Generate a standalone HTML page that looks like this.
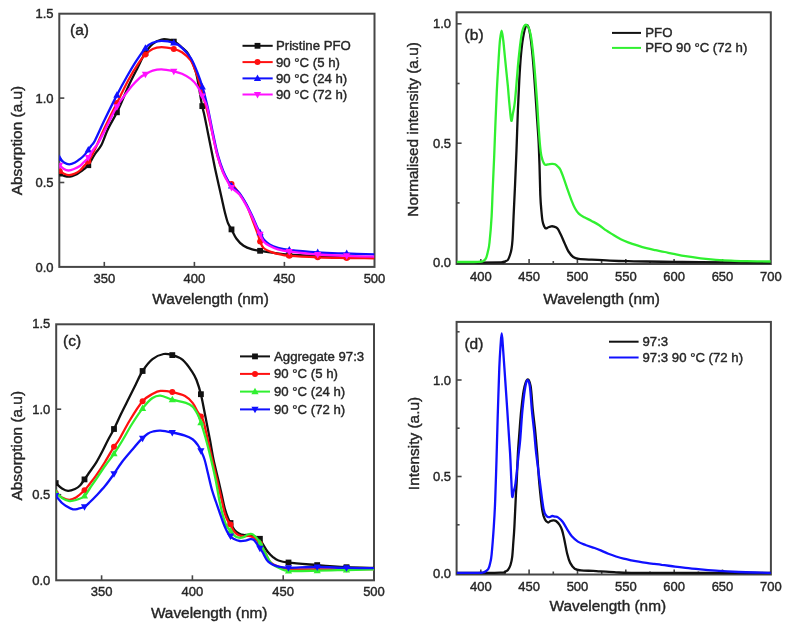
<!DOCTYPE html>
<html><head><meta charset="utf-8"><title>Figure</title>
<style>
html,body{margin:0;padding:0;background:#fff;}
body{width:787px;height:629px;overflow:hidden;}
svg{display:block;filter:blur(0.4px);}
text{font-family:"Liberation Sans",sans-serif;fill:#262626;stroke:#262626;stroke-width:0.4px;}
</style></head><body>
<svg width="787" height="629" viewBox="0 0 787 629">
<rect width="787" height="629" fill="#fff"/>
<g id="all">
<rect x="59.3" y="13.7" width="315.2" height="253.2" fill="none" stroke="#464646" stroke-width="2"/>
<line x1="104.3" y1="266.9" x2="104.3" y2="261.9" stroke="#464646" stroke-width="1.6"/>
<line x1="194.4" y1="266.9" x2="194.4" y2="261.9" stroke="#464646" stroke-width="1.6"/>
<line x1="284.4" y1="266.9" x2="284.4" y2="261.9" stroke="#464646" stroke-width="1.6"/>
<line x1="59.3" y1="182.5" x2="64.3" y2="182.5" stroke="#464646" stroke-width="1.6"/>
<line x1="59.3" y1="98.1" x2="64.3" y2="98.1" stroke="#464646" stroke-width="1.6"/>
<text x="104.3" y="283.0" font-size="13.0" text-anchor="middle" >350</text>
<text x="194.4" y="283.0" font-size="13.0" text-anchor="middle" >400</text>
<text x="284.4" y="283.0" font-size="13.0" text-anchor="middle" >450</text>
<text x="374.5" y="283.0" font-size="13.0" text-anchor="middle" >500</text>
<text x="53.5" y="271.5" font-size="13.0" text-anchor="end" >0.0</text>
<text x="53.5" y="187.1" font-size="13.0" text-anchor="end" >0.5</text>
<text x="53.5" y="102.7" font-size="13.0" text-anchor="end" >1.0</text>
<text x="53.5" y="18.3" font-size="13.0" text-anchor="end" >1.5</text>
<text x="210.5" y="304.0" font-size="15.4" text-anchor="middle" >Wavelength (nm)</text>
<text x="0.0" y="0.0" font-size="15.4" text-anchor="middle" transform="translate(21.5,140.6) rotate(-90)">Absorption (a.u)</text>
<text x="70.0" y="34.5" font-size="15.5" text-anchor="start" >(a)</text>
<clipPath id="ca"><rect x="59.3" y="13.7" width="315.2" height="253.2"/></clipPath>
<g clip-path="url(#ca)">
<path d="M59.5,173.6 C60.2,174.0 62.2,175.3 64.0,175.8 C65.8,176.3 68.2,176.7 70.0,176.6 C71.8,176.5 73.3,175.8 75.0,175.0 C76.7,174.2 78.4,173.0 79.9,172.0 C81.4,171.0 82.6,170.1 84.0,169.0 C85.4,167.9 86.5,167.7 88.3,165.2 C90.1,162.7 92.8,157.4 95.0,154.0 C97.2,150.6 99.2,149.2 101.4,145.0 C103.6,140.8 105.2,134.8 108.0,129.0 C110.8,123.2 114.6,117.3 118.0,110.2 C121.4,103.1 125.1,93.5 128.4,86.3 C131.7,79.1 135.2,72.6 137.9,67.3 C140.6,62.0 141.8,58.4 144.3,54.5 C146.8,50.6 149.8,46.5 152.7,44.0 C155.6,41.5 158.7,40.2 161.6,39.5 C164.5,38.8 167.6,39.5 170.0,40.0 C172.4,40.5 174.0,41.2 176.0,42.5 C178.0,43.8 179.9,45.6 182.0,47.5 C184.1,49.4 186.0,50.0 188.3,54.1 C190.6,58.2 193.7,63.9 195.9,72.0 C198.1,80.2 200.2,95.6 201.6,103.0 C203.0,110.4 203.5,111.1 204.6,116.2 C205.7,121.3 206.9,127.9 208.1,133.7 C209.3,139.5 210.4,145.4 211.6,151.2 C212.8,157.0 213.9,163.2 215.1,168.7 C216.3,174.2 217.4,179.2 218.6,184.4 C219.8,189.6 221.1,195.4 222.1,200.0 C223.1,204.6 223.8,208.2 224.8,212.0 C225.8,215.8 226.8,220.0 227.9,222.9 C229.0,225.8 230.1,226.8 231.5,229.4 C232.9,232.0 234.5,236.0 236.5,238.7 C238.5,241.4 241.0,244.0 243.6,245.8 C246.2,247.6 249.4,248.6 252.2,249.4 C254.9,250.2 256.8,250.2 260.1,250.8 C263.4,251.4 267.3,252.1 272.2,252.7 C277.1,253.3 281.8,254.0 289.4,254.6 C297.0,255.2 308.6,255.6 318.0,256.0 C327.4,256.4 336.6,256.6 346.0,256.8 C355.4,257.0 369.8,257.2 374.5,257.3" fill="none" stroke="#111" stroke-width="2.3" stroke-linejoin="round"/>
<rect x="56.7" y="170.7" width="5.8" height="5.8" fill="#111"/>
<rect x="85.4" y="162.3" width="5.8" height="5.8" fill="#111"/>
<rect x="114.0" y="109.4" width="5.8" height="5.8" fill="#111"/>
<rect x="142.5" y="50.2" width="5.8" height="5.8" fill="#111"/>
<rect x="170.9" y="38.7" width="5.8" height="5.8" fill="#111"/>
<rect x="199.4" y="103.2" width="5.8" height="5.8" fill="#111"/>
<rect x="228.6" y="226.5" width="5.8" height="5.8" fill="#111"/>
<rect x="257.2" y="247.9" width="5.8" height="5.8" fill="#111"/>
<rect x="286.4" y="251.7" width="5.8" height="5.8" fill="#111"/>
<rect x="314.8" y="253.1" width="5.8" height="5.8" fill="#111"/>
<rect x="343.8" y="253.9" width="5.8" height="5.8" fill="#111"/>
<path d="M59.5,170.9 C60.2,171.4 62.4,173.1 64.0,173.8 C65.6,174.5 67.4,175.2 69.2,175.1 C71.0,175.0 73.2,174.3 75.0,173.5 C76.8,172.7 78.4,171.8 79.9,170.5 C81.4,169.2 82.5,167.7 84.0,166.0 C85.5,164.3 87.3,163.1 89.0,160.6 C90.7,158.1 92.6,153.8 94.0,151.0 C95.4,148.2 95.6,148.0 97.4,144.0 C99.2,140.0 101.7,134.0 105.0,127.0 C108.3,120.0 113.4,110.0 117.3,102.2 C121.2,94.4 125.0,86.3 128.4,80.0 C131.8,73.7 135.1,68.3 137.9,64.1 C140.7,59.9 142.6,57.3 145.1,54.8 C147.6,52.3 149.9,50.3 152.7,49.0 C155.4,47.7 158.1,47.2 161.6,47.2 C165.1,47.2 170.3,48.2 173.7,49.0 C177.1,49.8 179.2,50.3 182.0,52.2 C184.8,54.1 188.3,56.6 190.8,60.5 C193.3,64.4 195.4,70.8 197.2,75.7 C199.0,80.6 200.2,85.5 201.5,90.0 C202.8,94.5 203.9,99.0 205.0,103.0 C206.1,107.0 206.8,108.9 208.0,114.0 C209.2,119.1 210.9,126.6 212.5,133.7 C214.1,140.8 215.9,150.0 217.7,156.4 C219.4,162.8 221.2,167.8 223.0,172.0 C224.8,176.2 226.7,179.4 228.2,181.5 C229.7,183.6 230.2,182.3 232.0,184.3 C233.8,186.3 236.9,190.1 239.3,193.5 C241.7,196.9 244.1,200.1 246.5,205.0 C248.9,209.9 251.7,218.0 253.6,222.9 C255.5,227.8 256.8,231.3 257.9,234.4 C259.0,237.5 259.2,239.2 260.1,241.5 C261.1,243.8 261.6,246.2 263.6,248.0 C265.6,249.8 268.9,251.1 272.2,252.3 C275.5,253.5 280.8,254.5 283.7,255.1 C286.6,255.7 283.7,255.4 289.4,255.8 C295.1,256.2 308.6,256.9 318.0,257.3 C327.4,257.7 336.6,257.8 346.0,258.0 C355.4,258.2 369.8,258.2 374.5,258.3" fill="none" stroke="#ff1010" stroke-width="2.3" stroke-linejoin="round"/>
<circle cx="59.6" cy="171.0" r="3.0" fill="#ff1010"/>
<circle cx="88.3" cy="161.4" r="3.0" fill="#ff1010"/>
<circle cx="116.9" cy="103.0" r="3.0" fill="#ff1010"/>
<circle cx="145.4" cy="54.6" r="3.0" fill="#ff1010"/>
<circle cx="173.8" cy="49.0" r="3.0" fill="#ff1010"/>
<circle cx="202.3" cy="93.0" r="3.0" fill="#ff1010"/>
<circle cx="231.5" cy="183.9" r="3.0" fill="#ff1010"/>
<circle cx="260.1" cy="241.5" r="3.0" fill="#ff1010"/>
<circle cx="289.3" cy="255.8" r="3.0" fill="#ff1010"/>
<circle cx="317.7" cy="257.3" r="3.0" fill="#ff1010"/>
<circle cx="346.7" cy="258.0" r="3.0" fill="#ff1010"/>
<path d="M59.5,158.3 C60.2,159.0 62.4,161.5 64.0,162.5 C65.6,163.5 67.4,164.4 69.2,164.4 C71.0,164.4 73.2,163.4 75.0,162.5 C76.8,161.6 78.4,160.3 79.9,159.1 C81.4,157.9 82.7,156.8 84.0,155.5 C85.3,154.2 86.3,152.7 87.5,151.1 C88.7,149.5 89.8,147.8 91.0,146.0 C92.2,144.2 92.7,144.9 95.0,140.4 C97.3,135.9 101.4,126.4 105.0,119.0 C108.6,111.6 112.9,102.9 116.5,95.9 C120.1,88.9 123.5,82.6 126.8,76.8 C130.1,71.0 133.1,65.8 136.3,60.9 C139.5,56.0 143.2,50.4 145.9,47.4 C148.6,44.4 150.1,43.8 152.7,42.7 C155.3,41.6 158.1,40.8 161.6,40.8 C165.1,40.8 170.3,41.5 173.7,42.7 C177.1,43.9 179.2,45.2 182.0,47.8 C184.8,50.3 188.3,54.0 190.8,58.0 C193.3,62.0 195.2,66.9 197.2,72.0 C199.2,77.1 201.2,82.8 202.9,88.5 C204.6,94.2 205.8,99.2 207.5,106.5 C209.2,113.8 211.1,124.3 212.8,132.5 C214.6,140.7 216.2,149.1 218.0,155.5 C219.8,161.9 221.6,166.8 223.3,171.2 C225.1,175.6 227.1,179.1 228.5,181.7 C229.9,184.2 230.2,184.6 232.0,186.5 C233.8,188.4 237.1,190.2 239.5,193.3 C241.9,196.4 244.5,201.0 246.7,204.8 C248.8,208.6 250.7,212.6 252.4,216.2 C254.1,219.8 255.4,223.4 256.7,226.2 C258.0,229.0 259.1,230.8 260.3,233.0 C261.5,235.2 262.2,237.6 263.8,239.5 C265.4,241.4 267.2,243.1 269.6,244.5 C272.0,245.9 274.7,246.9 278.0,247.8 C281.3,248.7 282.7,249.2 289.4,250.0 C296.1,250.8 308.6,251.9 318.0,252.5 C327.4,253.1 336.6,253.2 346.0,253.5 C355.4,253.8 369.8,254.2 374.5,254.3" fill="none" stroke="#1010ff" stroke-width="2.3" stroke-linejoin="round"/>
<path d="M59.6,154.5L63.2,161.0L56.0,161.0Z" fill="#1010ff"/>
<path d="M88.3,146.0L91.9,152.5L84.7,152.5Z" fill="#1010ff"/>
<path d="M116.9,91.3L120.5,97.8L113.3,97.8Z" fill="#1010ff"/>
<path d="M145.4,44.2L149.0,50.7L141.8,50.7Z" fill="#1010ff"/>
<path d="M173.8,38.9L177.4,45.4L170.2,45.4Z" fill="#1010ff"/>
<path d="M202.3,82.9L205.9,89.4L198.7,89.4Z" fill="#1010ff"/>
<path d="M231.5,181.9L235.1,188.4L227.9,188.4Z" fill="#1010ff"/>
<path d="M260.1,228.7L263.7,235.2L256.5,235.2Z" fill="#1010ff"/>
<path d="M289.3,246.1L292.9,252.6L285.7,252.6Z" fill="#1010ff"/>
<path d="M317.7,248.6L321.3,255.1L314.1,255.1Z" fill="#1010ff"/>
<path d="M346.7,249.6L350.3,256.1L343.1,256.1Z" fill="#1010ff"/>
<path d="M59.5,165.2 C60.2,165.8 62.5,168.1 64.0,169.0 C65.5,169.9 66.8,170.5 68.5,170.5 C70.2,170.5 72.1,169.8 74.0,169.0 C75.9,168.2 78.2,167.2 79.9,166.0 C81.6,164.8 82.6,163.4 84.0,162.0 C85.4,160.6 86.8,159.6 88.3,157.6 C89.8,155.6 91.3,152.4 93.0,150.0 C94.7,147.6 96.2,146.3 98.2,143.0 C100.2,139.7 102.1,135.7 105.0,130.0 C107.9,124.3 112.9,113.8 115.7,108.6 C118.5,103.4 119.3,102.7 122.0,99.0 C124.7,95.3 128.6,89.9 131.6,86.3 C134.6,82.7 137.8,79.6 140.0,77.6 C142.2,75.6 143.0,75.7 145.1,74.5 C147.2,73.3 149.9,71.5 152.7,70.7 C155.4,69.9 158.1,69.3 161.6,69.4 C165.1,69.5 170.3,70.6 173.7,71.3 C177.1,72.0 179.2,72.5 182.0,73.8 C184.8,75.1 188.3,76.9 190.8,78.9 C193.3,80.9 195.3,83.0 197.2,85.9 C199.1,88.8 200.6,92.5 202.3,96.1 C204.0,99.7 205.5,101.2 207.2,107.5 C208.9,113.8 210.8,125.5 212.5,133.7 C214.2,141.8 215.9,150.0 217.7,156.4 C219.4,162.8 221.2,167.8 223.0,172.2 C224.8,176.6 226.8,180.1 228.2,182.7 C229.6,185.3 229.8,186.0 231.7,187.9 C233.5,189.8 236.8,191.3 239.3,194.3 C241.8,197.3 244.3,202.0 246.5,205.8 C248.7,209.6 250.5,213.6 252.2,217.2 C253.9,220.8 255.2,224.3 256.5,227.2 C257.8,230.1 258.9,232.0 260.1,234.4 C261.3,236.8 262.1,239.6 263.6,241.5 C265.2,243.4 267.0,244.5 269.4,245.8 C271.8,247.1 274.6,248.5 277.9,249.4 C281.2,250.3 282.7,250.7 289.4,251.5 C296.1,252.3 308.6,253.8 318.0,254.5 C327.4,255.2 336.6,255.4 346.0,255.8 C355.4,256.2 369.8,256.6 374.5,256.7" fill="none" stroke="#ff10ff" stroke-width="2.3" stroke-linejoin="round"/>
<path d="M59.6,169.2L63.2,162.7L56.0,162.7Z" fill="#ff10ff"/>
<path d="M88.3,161.5L91.9,155.0L84.7,155.0Z" fill="#ff10ff"/>
<path d="M116.9,110.7L120.5,104.2L113.3,104.2Z" fill="#ff10ff"/>
<path d="M145.4,78.2L149.0,71.8L141.8,71.8Z" fill="#ff10ff"/>
<path d="M173.8,75.2L177.4,68.7L170.2,68.7Z" fill="#ff10ff"/>
<path d="M202.3,100.0L205.9,93.5L198.7,93.5Z" fill="#ff10ff"/>
<path d="M231.5,191.5L235.1,185.0L227.9,185.0Z" fill="#ff10ff"/>
<path d="M260.1,238.3L263.7,231.8L256.5,231.8Z" fill="#ff10ff"/>
<path d="M289.3,255.4L292.9,248.9L285.7,248.9Z" fill="#ff10ff"/>
<path d="M317.7,258.4L321.3,251.9L314.1,251.9Z" fill="#ff10ff"/>
<path d="M346.7,259.7L350.3,253.2L343.1,253.2Z" fill="#ff10ff"/>
</g>
<line x1="242.5" y1="45.8" x2="272.7" y2="45.8" stroke="#111" stroke-width="2"/>
<rect x="254.6" y="42.9" width="5.8" height="5.8" fill="#111"/>
<text x="276.0" y="50.3" font-size="13.2" text-anchor="start" >Pristine PFO</text>
<line x1="242.5" y1="62.1" x2="272.7" y2="62.1" stroke="#ff1010" stroke-width="2"/>
<circle cx="257.5" cy="62.1" r="3.0" fill="#ff1010"/>
<text x="276.0" y="66.6" font-size="13.2" text-anchor="start" >90 °C (5 h)</text>
<line x1="242.5" y1="78.4" x2="272.7" y2="78.4" stroke="#1010ff" stroke-width="2"/>
<path d="M257.5,74.5L261.1,81.0L253.9,81.0Z" fill="#1010ff"/>
<text x="276.0" y="82.9" font-size="13.2" text-anchor="start" >90 °C (24 h)</text>
<line x1="242.5" y1="94.5" x2="272.7" y2="94.5" stroke="#ff10ff" stroke-width="2"/>
<path d="M257.5,98.4L261.1,91.9L253.9,91.9Z" fill="#ff10ff"/>
<text x="276.0" y="99.0" font-size="13.2" text-anchor="start" >90 °C (72 h)</text>
<rect x="56.2" y="324.3" width="317.8" height="256.0" fill="none" stroke="#464646" stroke-width="2"/>
<line x1="101.6" y1="580.3" x2="101.6" y2="575.3" stroke="#464646" stroke-width="1.6"/>
<line x1="192.4" y1="580.3" x2="192.4" y2="575.3" stroke="#464646" stroke-width="1.6"/>
<line x1="283.2" y1="580.3" x2="283.2" y2="575.3" stroke="#464646" stroke-width="1.6"/>
<line x1="56.2" y1="494.7" x2="61.2" y2="494.7" stroke="#464646" stroke-width="1.6"/>
<line x1="56.2" y1="409.2" x2="61.2" y2="409.2" stroke="#464646" stroke-width="1.6"/>
<text x="101.6" y="596.3" font-size="13.0" text-anchor="middle" >350</text>
<text x="192.4" y="596.3" font-size="13.0" text-anchor="middle" >400</text>
<text x="283.2" y="596.3" font-size="13.0" text-anchor="middle" >450</text>
<text x="374.0" y="596.3" font-size="13.0" text-anchor="middle" >500</text>
<text x="50.3" y="584.8" font-size="13.0" text-anchor="end" >0.0</text>
<text x="50.3" y="499.3" font-size="13.0" text-anchor="end" >0.5</text>
<text x="50.3" y="413.8" font-size="13.0" text-anchor="end" >1.0</text>
<text x="50.3" y="328.3" font-size="13.0" text-anchor="end" >1.5</text>
<text x="209.2" y="617.9" font-size="15.4" text-anchor="middle" >Wavelength (nm)</text>
<text x="0.0" y="0.0" font-size="15.4" text-anchor="middle" transform="translate(21.5,445.7) rotate(-90)">Absorption (a.u)</text>
<text x="63.0" y="345.6" font-size="15.5" text-anchor="start" >(c)</text>
<clipPath id="cc"><rect x="56.2" y="324.3" width="317.8" height="256.0"/></clipPath>
<g clip-path="url(#cc)">
<path d="M55.6,483.0 C56.7,483.9 59.9,487.2 62.0,488.5 C64.1,489.8 65.8,490.8 68.0,490.9 C70.2,491.0 73.0,489.9 75.0,489.0 C77.0,488.1 78.4,487.1 80.0,485.5 C81.6,483.9 82.8,481.7 84.5,479.4 C86.2,477.1 88.1,474.2 90.0,471.5 C91.9,468.8 94.0,466.1 96.0,462.9 C98.0,459.6 100.0,455.8 102.0,452.0 C104.0,448.2 106.0,443.8 108.0,440.0 C110.0,436.2 111.8,433.3 114.0,429.0 C116.2,424.7 118.6,419.0 121.0,414.0 C123.4,409.0 126.2,403.6 128.6,398.8 C131.0,394.0 133.2,389.6 135.5,385.0 C137.8,380.4 139.8,375.3 142.6,371.0 C145.4,366.7 149.0,361.9 152.5,359.1 C156.0,356.3 160.3,354.7 163.6,354.0 C166.9,353.3 169.1,354.1 172.3,355.1 C175.5,356.1 179.4,357.1 182.7,359.9 C186.0,362.7 189.9,368.4 192.2,371.8 C194.5,375.2 195.1,376.3 196.5,380.0 C197.9,383.7 199.4,388.1 200.9,394.2 C202.4,400.3 203.9,409.1 205.4,416.6 C206.9,424.1 208.4,431.8 209.8,439.0 C211.2,446.2 212.1,453.0 213.6,460.0 C215.1,467.0 217.2,475.0 218.6,481.0 C220.0,487.0 221.0,491.4 222.0,496.0 C223.0,500.6 223.8,504.8 224.8,508.5 C225.8,512.2 227.0,515.4 228.0,518.0 C229.0,520.6 229.9,522.0 231.0,524.0 C232.1,526.0 233.2,528.4 234.5,530.0 C235.8,531.6 237.5,532.7 239.0,533.5 C240.5,534.3 242.0,534.8 243.6,535.0 C245.2,535.2 246.8,534.8 248.4,535.0 C250.0,535.2 251.8,535.6 253.2,536.0 C254.6,536.4 255.9,536.8 257.0,537.2 C258.1,537.6 258.9,537.5 259.8,538.6 C260.8,539.7 261.4,541.8 262.7,543.9 C264.0,546.0 265.8,549.3 267.5,551.5 C269.2,553.7 271.4,555.8 273.2,557.3 C275.0,558.8 275.9,559.6 278.5,560.5 C281.1,561.4 282.4,561.8 288.8,562.6 C295.2,563.4 307.6,564.3 317.2,565.1 C326.8,565.9 337.0,566.7 346.5,567.2 C356.0,567.7 369.4,567.8 374.0,567.9" fill="none" stroke="#111" stroke-width="2.3" stroke-linejoin="round"/>
<rect x="52.8" y="480.2" width="5.8" height="5.8" fill="#111"/>
<rect x="81.6" y="476.5" width="5.8" height="5.8" fill="#111"/>
<rect x="111.1" y="426.1" width="5.8" height="5.8" fill="#111"/>
<rect x="139.7" y="368.1" width="5.8" height="5.8" fill="#111"/>
<rect x="169.4" y="352.2" width="5.8" height="5.8" fill="#111"/>
<rect x="198.0" y="391.3" width="5.8" height="5.8" fill="#111"/>
<rect x="227.6" y="520.1" width="5.8" height="5.8" fill="#111"/>
<rect x="257.0" y="535.9" width="5.8" height="5.8" fill="#111"/>
<rect x="285.6" y="559.6" width="5.8" height="5.8" fill="#111"/>
<rect x="314.3" y="562.2" width="5.8" height="5.8" fill="#111"/>
<rect x="343.6" y="564.3" width="5.8" height="5.8" fill="#111"/>
<path d="M55.6,493.0 C56.7,493.8 59.7,496.4 62.0,497.5 C64.3,498.6 67.0,499.8 69.3,499.8 C71.6,499.8 73.5,499.1 76.0,497.5 C78.5,495.9 82.2,492.6 84.5,490.3 C86.8,488.0 88.1,485.9 90.0,483.5 C91.9,481.1 93.5,479.2 96.0,475.6 C98.5,472.0 102.0,466.8 105.0,462.0 C108.0,457.2 111.5,450.7 113.8,447.0 C116.1,443.3 116.2,444.5 118.9,440.0 C121.6,435.5 126.0,426.5 130.0,420.0 C133.9,413.5 138.8,405.5 142.6,401.2 C146.3,396.9 149.5,395.7 152.5,394.0 C155.5,392.3 157.1,391.2 160.4,390.9 C163.7,390.6 168.2,391.2 172.3,392.1 C176.4,393.0 181.6,394.2 185.0,396.0 C188.4,397.8 190.5,400.3 192.6,402.9 C194.7,405.5 196.0,409.0 197.7,411.8 C199.4,414.6 201.3,415.7 202.8,419.5 C204.3,423.3 205.3,429.2 206.6,434.5 C207.8,439.8 209.1,445.6 210.3,451.0 C211.5,456.4 212.8,461.8 214.0,467.0 C215.2,472.2 216.3,476.5 217.6,482.0 C218.9,487.5 220.5,494.9 221.7,500.0 C222.8,505.1 223.6,509.1 224.5,512.4 C225.4,515.7 226.4,517.9 227.4,520.0 C228.4,522.1 229.6,522.9 230.7,524.8 C231.8,526.7 232.7,529.8 234.1,531.5 C235.5,533.2 237.3,534.5 238.9,535.3 C240.5,536.1 242.0,536.2 243.6,536.3 C245.2,536.4 246.8,535.6 248.4,535.8 C250.0,535.9 251.8,536.5 253.2,537.2 C254.6,537.9 255.7,538.8 257.0,540.1 C258.3,541.4 259.4,542.6 260.8,544.8 C262.2,547.0 264.0,550.5 265.6,553.4 C267.2,556.3 268.1,559.8 270.2,562.0 C272.3,564.2 275.4,565.4 278.5,566.5 C281.6,567.6 282.4,568.3 288.8,568.8 C295.2,569.3 307.6,569.4 317.2,569.5 C326.8,569.6 337.0,569.4 346.5,569.3 C356.0,569.2 369.4,569.0 374.0,569.0" fill="none" stroke="#ff1010" stroke-width="2.3" stroke-linejoin="round"/>
<circle cx="55.7" cy="493.1" r="3.0" fill="#ff1010"/>
<circle cx="84.5" cy="490.3" r="3.0" fill="#ff1010"/>
<circle cx="114.0" cy="446.7" r="3.0" fill="#ff1010"/>
<circle cx="142.6" cy="401.2" r="3.0" fill="#ff1010"/>
<circle cx="172.3" cy="392.1" r="3.0" fill="#ff1010"/>
<circle cx="200.9" cy="416.6" r="3.0" fill="#ff1010"/>
<circle cx="230.5" cy="524.5" r="3.0" fill="#ff1010"/>
<circle cx="259.9" cy="543.7" r="3.0" fill="#ff1010"/>
<circle cx="288.5" cy="568.7" r="3.0" fill="#ff1010"/>
<circle cx="317.2" cy="569.5" r="3.0" fill="#ff1010"/>
<circle cx="346.5" cy="569.3" r="3.0" fill="#ff1010"/>
<path d="M55.6,492.0 C56.7,493.0 59.7,496.5 62.0,498.0 C64.3,499.5 67.0,500.7 69.3,501.0 C71.6,501.3 73.5,500.8 76.0,500.0 C78.5,499.2 82.2,498.0 84.5,496.0 C86.8,494.0 88.1,490.8 90.0,488.0 C91.9,485.2 93.5,483.1 96.0,479.4 C98.5,475.7 102.0,470.2 105.0,466.0 C108.0,461.8 110.8,458.3 113.8,454.0 C116.8,449.7 119.7,445.0 122.7,440.0 C125.7,435.0 128.6,429.4 132.0,424.0 C135.4,418.6 139.8,411.9 143.2,407.6 C146.6,403.3 149.6,400.0 152.5,398.0 C155.4,396.0 157.1,395.3 160.4,395.6 C163.7,395.9 168.1,398.4 172.3,399.6 C176.6,400.8 182.5,401.6 185.9,402.8 C189.3,404.0 190.6,404.8 192.6,406.7 C194.6,408.6 196.3,411.8 197.7,414.4 C199.1,417.0 199.6,418.8 200.9,422.6 C202.2,426.4 204.0,432.2 205.4,437.3 C206.8,442.4 207.8,446.1 209.5,453.0 C211.2,459.9 213.9,471.1 215.5,478.9 C217.1,486.7 218.1,494.1 219.3,500.0 C220.5,505.9 221.4,510.0 222.6,514.3 C223.8,518.6 225.2,523.1 226.5,525.8 C227.8,528.5 229.0,528.9 230.3,530.5 C231.6,532.1 232.7,534.1 234.1,535.3 C235.5,536.5 237.3,537.4 238.9,537.7 C240.5,538.0 242.2,537.7 243.6,537.2 C245.0,536.7 246.1,535.3 247.4,534.8 C248.7,534.2 250.0,533.6 251.3,533.9 C252.6,534.1 253.8,535.1 255.1,536.3 C256.4,537.5 257.6,539.1 258.9,541.0 C260.2,542.9 261.3,545.0 262.7,547.7 C264.1,550.4 265.9,554.6 267.5,557.3 C269.1,560.0 269.9,562.1 272.0,564.0 C274.1,565.9 277.2,567.4 280.0,568.5 C282.8,569.6 282.6,570.5 288.8,570.9 C295.0,571.2 307.6,570.8 317.2,570.6 C326.8,570.5 337.0,570.2 346.5,570.0 C356.0,569.8 369.4,569.5 374.0,569.4" fill="none" stroke="#30f030" stroke-width="2.3" stroke-linejoin="round"/>
<path d="M55.7,488.2L59.3,494.7L52.1,494.7Z" fill="#30f030"/>
<path d="M84.5,492.1L88.1,498.6L80.9,498.6Z" fill="#30f030"/>
<path d="M114.0,449.8L117.6,456.3L110.4,456.3Z" fill="#30f030"/>
<path d="M142.6,404.6L146.2,411.1L139.0,411.1Z" fill="#30f030"/>
<path d="M172.3,395.7L175.9,402.2L168.7,402.2Z" fill="#30f030"/>
<path d="M200.9,418.7L204.5,425.2L197.3,425.2Z" fill="#30f030"/>
<path d="M230.5,526.9L234.1,533.4L226.9,533.4Z" fill="#30f030"/>
<path d="M259.9,538.9L263.5,545.4L256.3,545.4Z" fill="#30f030"/>
<path d="M288.5,566.9L292.1,573.4L284.9,573.4Z" fill="#30f030"/>
<path d="M317.2,566.7L320.8,573.2L313.6,573.2Z" fill="#30f030"/>
<path d="M346.5,566.1L350.1,572.6L342.9,572.6Z" fill="#30f030"/>
<path d="M55.6,495.5 C56.7,496.8 60.1,501.2 62.0,503.0 C63.9,504.8 65.2,505.4 67.0,506.5 C68.8,507.6 71.2,508.9 73.0,509.3 C74.8,509.7 76.1,509.2 78.0,508.8 C79.9,508.4 82.5,507.9 84.5,506.8 C86.5,505.7 88.1,503.8 90.0,502.0 C91.9,500.2 93.5,498.7 96.0,496.0 C98.5,493.3 102.1,489.5 105.0,486.0 C107.9,482.5 110.4,479.0 113.2,475.0 C116.0,471.0 118.7,466.4 122.0,462.0 C125.3,457.6 129.7,452.7 132.9,448.9 C136.1,445.1 138.8,441.9 141.3,439.4 C143.8,436.9 145.8,435.1 147.7,433.8 C149.6,432.5 150.9,432.0 153.0,431.5 C155.1,431.0 157.2,430.4 160.4,430.6 C163.6,430.8 168.3,431.7 172.3,432.5 C176.3,433.3 180.9,434.3 184.3,435.4 C187.7,436.5 190.4,437.6 192.6,439.2 C194.8,440.8 196.2,442.8 197.7,444.9 C199.2,447.0 200.3,449.4 201.5,451.9 C202.7,454.4 203.6,456.2 204.7,460.0 C205.8,463.8 207.1,469.8 208.3,474.8 C209.5,479.8 210.7,485.5 212.0,490.0 C213.3,494.5 214.7,498.2 216.0,502.0 C217.3,505.8 218.4,509.0 219.8,513.0 C221.2,517.0 222.9,522.3 224.5,526.0 C226.1,529.7 227.7,533.1 229.3,535.3 C230.9,537.5 232.3,538.1 234.1,539.1 C235.8,540.1 237.9,540.8 239.8,541.0 C241.7,541.2 243.8,540.9 245.5,540.6 C247.2,540.3 248.9,539.2 250.3,539.1 C251.7,539.0 252.7,538.8 254.1,540.1 C255.5,541.4 257.5,544.7 258.9,546.8 C260.3,548.9 261.1,550.0 262.7,552.5 C264.2,555.0 265.6,559.2 268.2,561.6 C270.8,564.0 275.1,565.7 278.5,566.7 C281.9,567.7 282.4,567.8 288.8,567.8 C295.2,567.8 307.6,567.0 317.2,567.0 C326.8,567.0 337.0,567.7 346.5,567.9 C356.0,568.1 369.4,568.2 374.0,568.2" fill="none" stroke="#1010ff" stroke-width="2.3" stroke-linejoin="round"/>
<path d="M55.7,499.5L59.3,493.0L52.1,493.0Z" fill="#1010ff"/>
<path d="M84.5,510.7L88.1,504.2L80.9,504.2Z" fill="#1010ff"/>
<path d="M114.0,477.7L117.6,471.2L110.4,471.2Z" fill="#1010ff"/>
<path d="M142.6,442.2L146.2,435.7L139.0,435.7Z" fill="#1010ff"/>
<path d="M172.3,436.4L175.9,429.9L168.7,429.9Z" fill="#1010ff"/>
<path d="M200.9,454.7L204.5,448.2L197.3,448.2Z" fill="#1010ff"/>
<path d="M230.5,540.1L234.1,533.6L226.9,533.6Z" fill="#1010ff"/>
<path d="M259.9,552.2L263.5,545.7L256.3,545.7Z" fill="#1010ff"/>
<path d="M288.5,571.7L292.1,565.2L284.9,565.2Z" fill="#1010ff"/>
<path d="M317.2,570.9L320.8,564.4L313.6,564.4Z" fill="#1010ff"/>
<path d="M346.5,571.8L350.1,565.3L342.9,565.3Z" fill="#1010ff"/>
</g>
<line x1="240" y1="356.4" x2="270" y2="356.4" stroke="#111" stroke-width="2"/>
<rect x="252.1" y="353.5" width="5.8" height="5.8" fill="#111"/>
<text x="274.0" y="360.9" font-size="13.2" text-anchor="start" >Aggregate 97:3</text>
<line x1="240" y1="373.9" x2="270" y2="373.9" stroke="#ff1010" stroke-width="2"/>
<circle cx="255.0" cy="373.9" r="3.0" fill="#ff1010"/>
<text x="274.0" y="378.4" font-size="13.2" text-anchor="start" >90 °C (5 h)</text>
<line x1="240" y1="391.6" x2="270" y2="391.6" stroke="#30f030" stroke-width="2"/>
<path d="M255.0,387.7L258.6,394.2L251.4,394.2Z" fill="#30f030"/>
<text x="274.0" y="396.1" font-size="13.2" text-anchor="start" >90 °C (24 h)</text>
<line x1="240" y1="409.4" x2="270" y2="409.4" stroke="#1010ff" stroke-width="2"/>
<path d="M255.0,413.3L258.6,406.8L251.4,406.8Z" fill="#1010ff"/>
<text x="274.0" y="413.9" font-size="13.2" text-anchor="start" >90 °C (72 h)</text>
<rect x="456.6" y="12.3" width="314.2" height="251.7" fill="none" stroke="#464646" stroke-width="2"/>
<line x1="480.8" y1="264.0" x2="480.8" y2="259.0" stroke="#464646" stroke-width="1.6"/>
<line x1="504.9" y1="264.0" x2="504.9" y2="261.0" stroke="#464646" stroke-width="1.6"/>
<line x1="529.1" y1="264.0" x2="529.1" y2="259.0" stroke="#464646" stroke-width="1.6"/>
<line x1="553.3" y1="264.0" x2="553.3" y2="261.0" stroke="#464646" stroke-width="1.6"/>
<line x1="577.4" y1="264.0" x2="577.4" y2="259.0" stroke="#464646" stroke-width="1.6"/>
<line x1="601.6" y1="264.0" x2="601.6" y2="261.0" stroke="#464646" stroke-width="1.6"/>
<line x1="625.8" y1="264.0" x2="625.8" y2="259.0" stroke="#464646" stroke-width="1.6"/>
<line x1="650.0" y1="264.0" x2="650.0" y2="261.0" stroke="#464646" stroke-width="1.6"/>
<line x1="674.1" y1="264.0" x2="674.1" y2="259.0" stroke="#464646" stroke-width="1.6"/>
<line x1="698.3" y1="264.0" x2="698.3" y2="261.0" stroke="#464646" stroke-width="1.6"/>
<line x1="722.5" y1="264.0" x2="722.5" y2="259.0" stroke="#464646" stroke-width="1.6"/>
<line x1="746.6" y1="264.0" x2="746.6" y2="261.0" stroke="#464646" stroke-width="1.6"/>
<line x1="456.6" y1="202.9" x2="459.6" y2="202.9" stroke="#464646" stroke-width="1.6"/>
<line x1="456.6" y1="143.2" x2="461.6" y2="143.2" stroke="#464646" stroke-width="1.6"/>
<line x1="456.6" y1="83.5" x2="459.6" y2="83.5" stroke="#464646" stroke-width="1.6"/>
<line x1="456.6" y1="23.8" x2="461.6" y2="23.8" stroke="#464646" stroke-width="1.6"/>
<text x="480.8" y="280.5" font-size="13.0" text-anchor="middle" >400</text>
<text x="529.1" y="280.5" font-size="13.0" text-anchor="middle" >450</text>
<text x="577.4" y="280.5" font-size="13.0" text-anchor="middle" >500</text>
<text x="625.8" y="280.5" font-size="13.0" text-anchor="middle" >550</text>
<text x="674.1" y="280.5" font-size="13.0" text-anchor="middle" >600</text>
<text x="722.5" y="280.5" font-size="13.0" text-anchor="middle" >650</text>
<text x="770.8" y="280.5" font-size="13.0" text-anchor="middle" >700</text>
<text x="451.0" y="267.2" font-size="13.0" text-anchor="end" >0.0</text>
<text x="451.0" y="147.8" font-size="13.0" text-anchor="end" >0.5</text>
<text x="451.0" y="28.4" font-size="13.0" text-anchor="end" >1.0</text>
<text x="601.6" y="303.8" font-size="15.4" text-anchor="middle" >Wavelength (nm)</text>
<text x="0.0" y="0.0" font-size="15.4" text-anchor="middle" transform="translate(418,129.4) rotate(-90)">Normalised intensity (a.u)</text>
<text x="464.6" y="40.0" font-size="15.5" text-anchor="start" >(b)</text>
<clipPath id="cb"><rect x="456.6" y="12.3" width="314.2" height="251.7"/></clipPath>
<g clip-path="url(#cb)"><path d="M456.6,262.6 C463.8,262.6 492.4,262.5 500.0,262.4 C507.6,262.3 501.6,262.2 502.5,262.0 C503.4,261.8 504.6,261.6 505.5,261.2 C506.4,260.8 507.1,260.9 507.9,259.9 C508.6,258.9 509.4,256.8 510.0,255.0 C510.6,253.2 511.1,251.5 511.5,249.0 C511.9,246.5 512.1,245.5 512.5,240.0 C512.9,234.5 513.2,225.0 513.6,216.0 C514.0,207.0 514.5,197.0 515.0,186.0 C515.5,175.0 516.0,162.7 516.5,150.0 C517.0,137.3 517.4,121.7 517.9,110.0 C518.4,98.3 518.8,88.8 519.3,80.0 C519.8,71.2 520.2,64.0 520.8,57.0 C521.4,50.0 522.1,43.2 523.0,38.0 C523.9,32.8 525.2,26.7 526.3,25.5 C527.4,24.3 528.5,26.1 529.5,31.0 C530.5,35.9 531.4,43.4 532.5,55.0 C533.6,66.6 535.1,89.0 535.9,100.7 C536.7,112.4 537.0,117.8 537.5,125.0 C538.0,132.2 538.4,136.9 538.7,143.6 C539.0,150.3 539.2,156.4 539.5,165.0 C539.8,173.6 540.0,187.1 540.3,194.9 C540.6,202.7 541.1,207.7 541.5,212.0 C541.9,216.3 542.1,218.6 542.5,220.9 C542.9,223.2 543.5,224.8 544.0,226.0 C544.5,227.2 545.1,228.1 545.8,228.3 C546.5,228.6 547.1,227.8 548.0,227.5 C548.9,227.2 550.2,226.5 551.2,226.3 C552.2,226.2 553.0,226.2 554.0,226.6 C555.0,227.0 556.3,227.1 557.5,228.5 C558.7,229.9 559.8,232.6 561.0,235.0 C562.2,237.4 563.2,240.2 564.5,243.0 C565.8,245.8 567.0,249.2 568.5,251.5 C570.0,253.8 571.5,255.8 573.2,257.0 C574.9,258.2 575.7,258.4 578.8,258.8 C581.9,259.2 586.4,259.4 591.6,259.7 C596.8,260.0 603.7,260.4 609.8,260.6 C615.9,260.9 622.0,261.1 628.1,261.2 C634.2,261.3 638.6,261.4 646.4,261.5 C654.2,261.6 666.1,261.8 675.0,261.9 C683.9,262.0 684.0,262.1 700.0,262.2 C716.0,262.3 759.0,262.5 770.8,262.6" fill="none" stroke="#111" stroke-width="2.3" stroke-linejoin="round"/><path d="M456.6,262.0 C458.8,262.0 466.4,262.0 470.0,262.0 C473.6,262.0 476.0,261.9 478.0,261.8 C480.0,261.7 480.9,261.8 481.9,261.6 C482.9,261.4 483.3,261.1 484.0,260.5 C484.7,259.9 485.5,259.3 486.2,257.7 C486.9,256.1 487.4,253.5 488.0,251.0 C488.6,248.5 488.9,248.2 489.5,242.5 C490.1,236.8 491.1,225.3 491.6,216.6 C492.1,207.8 492.3,198.6 492.7,190.0 C493.1,181.4 493.4,173.3 493.8,165.0 C494.2,156.7 494.4,150.7 494.8,140.0 C495.2,129.3 495.9,111.0 496.4,100.7 C496.8,90.4 497.1,85.1 497.5,78.0 C497.9,70.9 498.3,64.2 498.7,57.9 C499.1,51.6 499.5,44.5 500.0,40.0 C500.5,35.5 501.1,30.7 501.6,30.7 C502.1,30.7 502.6,35.5 503.2,40.0 C503.8,44.5 504.2,50.2 505.0,57.9 C505.8,65.6 507.1,78.6 507.9,86.4 C508.6,94.2 508.9,99.3 509.5,105.0 C510.1,110.7 510.7,119.4 511.3,120.7 C511.9,122.0 512.4,116.3 513.0,113.0 C513.6,109.7 514.0,109.9 515.0,100.7 C516.0,91.5 517.5,69.3 518.7,57.9 C519.9,46.5 520.8,37.6 522.1,32.1 C523.4,26.6 524.9,24.5 526.3,24.8 C527.7,25.1 529.3,28.5 530.5,34.0 C531.7,39.5 532.5,46.8 533.6,57.9 C534.7,69.0 536.2,89.5 537.0,100.7 C537.8,111.9 538.0,117.6 538.5,125.0 C539.0,132.4 539.5,139.8 540.0,145.0 C540.5,150.2 540.6,152.8 541.4,156.0 C542.1,159.2 543.4,162.8 544.5,164.2 C545.6,165.6 546.8,164.4 548.0,164.3 C549.2,164.2 550.8,163.8 552.0,163.8 C553.2,163.8 554.0,163.7 555.0,164.2 C556.0,164.7 557.1,165.8 558.0,166.8 C558.9,167.8 559.5,168.0 560.5,170.1 C561.5,172.2 562.9,176.0 564.1,179.3 C565.3,182.7 566.6,186.7 567.8,190.2 C569.0,193.7 570.3,197.2 571.5,200.3 C572.7,203.4 573.9,206.3 575.1,208.5 C576.3,210.7 577.3,212.1 578.8,213.6 C580.3,215.1 582.2,216.1 584.3,217.3 C586.4,218.5 589.2,219.6 591.6,220.9 C594.0,222.2 596.5,223.4 598.9,225.0 C601.3,226.6 603.8,228.7 606.2,230.4 C608.6,232.1 611.1,233.5 613.5,235.0 C615.9,236.5 618.4,238.0 620.8,239.2 C623.2,240.4 625.4,241.3 628.1,242.3 C630.9,243.3 634.2,244.4 637.3,245.4 C640.3,246.4 643.4,247.4 646.4,248.2 C649.4,249.0 652.5,249.6 655.5,250.2 C658.5,250.8 661.5,251.3 664.7,252.0 C668.0,252.7 671.5,253.5 675.0,254.2 C678.5,254.9 681.2,255.5 685.5,256.2 C689.8,256.9 695.6,257.7 700.7,258.3 C705.8,258.9 710.9,259.4 716.0,259.8 C721.1,260.2 726.1,260.5 731.2,260.7 C736.3,260.9 739.9,261.1 746.5,261.2 C753.1,261.3 766.8,261.4 770.8,261.5" fill="none" stroke="#30f030" stroke-width="2.3" stroke-linejoin="round"/></g>
<line x1="612" y1="32.9" x2="641" y2="32.9" stroke="#111" stroke-width="2"/>
<text x="645.3" y="37.4" font-size="13.2" text-anchor="start" >PFO</text>
<line x1="612" y1="47.9" x2="641" y2="47.9" stroke="#30f030" stroke-width="2"/>
<text x="645.3" y="52.4" font-size="13.2" text-anchor="start" >PFO 90 °C (72 h)</text>
<rect x="456.6" y="321.9" width="314.3" height="252.6" fill="none" stroke="#464646" stroke-width="2"/>
<line x1="480.8" y1="574.5" x2="480.8" y2="569.5" stroke="#464646" stroke-width="1.6"/>
<line x1="505.0" y1="574.5" x2="505.0" y2="571.5" stroke="#464646" stroke-width="1.6"/>
<line x1="529.1" y1="574.5" x2="529.1" y2="569.5" stroke="#464646" stroke-width="1.6"/>
<line x1="553.3" y1="574.5" x2="553.3" y2="571.5" stroke="#464646" stroke-width="1.6"/>
<line x1="577.5" y1="574.5" x2="577.5" y2="569.5" stroke="#464646" stroke-width="1.6"/>
<line x1="601.7" y1="574.5" x2="601.7" y2="571.5" stroke="#464646" stroke-width="1.6"/>
<line x1="625.8" y1="574.5" x2="625.8" y2="569.5" stroke="#464646" stroke-width="1.6"/>
<line x1="650.0" y1="574.5" x2="650.0" y2="571.5" stroke="#464646" stroke-width="1.6"/>
<line x1="674.2" y1="574.5" x2="674.2" y2="569.5" stroke="#464646" stroke-width="1.6"/>
<line x1="698.4" y1="574.5" x2="698.4" y2="571.5" stroke="#464646" stroke-width="1.6"/>
<line x1="722.5" y1="574.5" x2="722.5" y2="569.5" stroke="#464646" stroke-width="1.6"/>
<line x1="746.7" y1="574.5" x2="746.7" y2="571.5" stroke="#464646" stroke-width="1.6"/>
<line x1="456.6" y1="524.8" x2="459.6" y2="524.8" stroke="#464646" stroke-width="1.6"/>
<line x1="456.6" y1="476.5" x2="461.6" y2="476.5" stroke="#464646" stroke-width="1.6"/>
<line x1="456.6" y1="428.2" x2="459.6" y2="428.2" stroke="#464646" stroke-width="1.6"/>
<line x1="456.6" y1="380.0" x2="461.6" y2="380.0" stroke="#464646" stroke-width="1.6"/>
<line x1="456.6" y1="331.8" x2="459.6" y2="331.8" stroke="#464646" stroke-width="1.6"/>
<text x="480.8" y="591.3" font-size="13.0" text-anchor="middle" >400</text>
<text x="529.1" y="591.3" font-size="13.0" text-anchor="middle" >450</text>
<text x="577.5" y="591.3" font-size="13.0" text-anchor="middle" >500</text>
<text x="625.8" y="591.3" font-size="13.0" text-anchor="middle" >550</text>
<text x="674.2" y="591.3" font-size="13.0" text-anchor="middle" >600</text>
<text x="722.5" y="591.3" font-size="13.0" text-anchor="middle" >650</text>
<text x="770.9" y="591.3" font-size="13.0" text-anchor="middle" >700</text>
<text x="451.0" y="577.6" font-size="13.0" text-anchor="end" >0.0</text>
<text x="451.0" y="481.1" font-size="13.0" text-anchor="end" >0.5</text>
<text x="451.0" y="384.6" font-size="13.0" text-anchor="end" >1.0</text>
<text x="607.8" y="611.4" font-size="15.4" text-anchor="middle" >Wavelength (nm)</text>
<text x="0.0" y="0.0" font-size="15.4" text-anchor="middle" transform="translate(419,443.5) rotate(-90)">Intensity (a.u)</text>
<text x="464.4" y="349.2" font-size="15.5" text-anchor="start" >(d)</text>
<clipPath id="cd"><rect x="456.6" y="321.9" width="314.3" height="252.6"/></clipPath>
<g clip-path="url(#cd)"><path d="M456.6,573.0 C463.9,573.0 492.2,573.0 500.3,572.7 C508.4,572.5 503.7,572.0 505.0,571.5 C506.3,571.0 507.0,571.0 507.9,569.9 C508.8,568.8 509.8,567.2 510.5,565.0 C511.2,562.8 511.7,561.1 512.2,556.9 C512.7,552.7 513.1,545.0 513.5,540.0 C513.9,535.0 514.0,534.1 514.4,526.6 C514.8,519.1 515.5,502.8 515.9,495.0 C516.3,487.2 516.5,486.9 516.8,480.0 C517.1,473.1 517.5,461.1 517.9,453.6 C518.3,446.1 518.7,442.1 519.2,435.0 C519.8,427.9 520.4,418.2 521.2,410.7 C522.0,403.2 522.8,395.2 523.8,390.0 C524.8,384.8 526.1,380.3 527.2,379.6 C528.3,378.9 529.7,380.8 530.6,386.0 C531.5,391.2 532.1,403.0 532.9,410.7 C533.7,418.4 534.6,424.9 535.3,432.0 C536.0,439.1 536.5,445.1 537.2,453.6 C537.9,462.2 538.4,473.7 539.3,483.3 C540.2,492.9 541.5,505.4 542.5,511.4 C543.5,517.4 544.1,517.6 545.0,519.5 C545.9,521.4 547.1,522.2 548.0,522.5 C548.9,522.8 549.6,521.4 550.5,521.0 C551.4,520.6 552.5,520.3 553.4,520.3 C554.3,520.3 555.0,520.2 556.0,521.0 C557.0,521.8 558.6,523.3 559.6,524.8 C560.6,526.3 561.2,527.7 562.0,530.0 C562.8,532.3 563.2,534.5 564.1,538.5 C565.0,542.5 566.2,549.7 567.2,553.8 C568.2,557.9 568.9,560.4 570.2,562.9 C571.5,565.4 573.0,567.5 574.8,568.8 C576.6,570.0 577.8,570.0 580.9,570.4 C584.0,570.8 589.8,570.7 593.1,570.9 C596.4,571.1 596.9,571.2 600.7,571.4 C604.5,571.6 610.9,572.1 616.0,572.3 C621.1,572.5 617.2,572.7 631.2,572.8 C645.2,572.9 676.7,573.0 700.0,573.0 C723.3,573.0 759.1,573.0 770.9,573.0" fill="none" stroke="#111" stroke-width="2.3" stroke-linejoin="round"/><path d="M456.6,572.8 C460.2,572.8 473.6,572.8 478.0,572.8 C482.4,572.8 481.7,572.8 483.0,572.5 C484.3,572.2 485.1,571.6 486.0,571.0 C486.9,570.4 487.7,570.1 488.4,568.8 C489.1,567.5 489.7,565.4 490.2,563.0 C490.7,560.6 491.0,560.8 491.6,554.7 C492.2,548.6 493.2,535.7 493.8,526.6 C494.4,517.5 494.8,511.1 495.2,500.0 C495.6,488.9 496.1,473.3 496.5,460.0 C496.9,446.7 497.1,435.4 497.6,420.0 C498.1,404.6 498.8,380.4 499.3,367.9 C499.8,355.4 500.2,350.7 500.6,345.0 C501.0,339.3 501.3,333.5 501.7,333.5 C502.1,333.5 502.4,339.3 502.8,345.0 C503.2,350.7 503.6,356.9 504.4,367.9 C505.1,378.8 506.4,396.4 507.3,410.7 C508.2,425.0 509.4,442.1 510.1,453.6 C510.8,465.2 510.9,472.9 511.3,480.0 C511.7,487.1 511.8,494.5 512.2,496.5 C512.6,498.5 513.0,494.2 513.5,492.0 C514.0,489.8 514.6,489.7 515.5,483.3 C516.4,476.9 517.9,460.8 518.7,453.6 C519.5,446.4 519.6,447.1 520.2,440.0 C520.8,432.9 521.6,419.0 522.4,410.7 C523.2,402.4 524.0,395.1 524.8,390.0 C525.6,384.9 526.4,381.0 527.2,380.3 C528.0,379.6 529.0,380.9 529.8,386.0 C530.6,391.1 531.2,403.0 531.9,410.7 C532.6,418.4 533.5,424.9 534.2,432.0 C534.9,439.1 535.2,445.1 536.2,453.6 C537.2,462.1 538.8,473.7 540.0,483.0 C541.2,492.3 542.5,503.8 543.6,509.3 C544.7,514.9 545.8,515.0 546.8,516.3 C547.8,517.6 548.7,517.1 549.6,517.1 C550.5,517.1 551.4,516.1 552.3,516.0 C553.2,515.9 554.0,516.4 555.0,516.6 C556.0,516.8 556.7,516.5 558.0,517.4 C559.3,518.3 561.1,519.8 562.6,521.8 C564.1,523.8 565.7,527.0 567.2,529.4 C568.7,531.8 570.0,534.3 571.8,536.3 C573.6,538.3 575.6,540.1 577.9,541.6 C580.2,543.1 582.7,543.9 585.5,545.0 C588.3,546.1 592.1,547.1 594.6,548.0 C597.1,548.9 598.4,549.4 600.7,550.4 C603.0,551.4 605.9,552.8 608.4,553.8 C610.9,554.8 613.5,555.7 616.0,556.5 C618.5,557.3 621.1,558.1 623.6,558.7 C626.1,559.3 628.7,559.8 631.2,560.3 C633.7,560.8 636.2,561.3 638.8,561.7 C641.3,562.1 644.0,562.5 646.5,562.9 C649.0,563.3 651.6,563.6 654.1,563.9 C656.6,564.2 658.2,564.3 661.7,564.8 C665.2,565.2 671.0,566.1 675.0,566.6 C679.0,567.1 681.2,567.4 685.5,567.9 C689.8,568.4 695.1,568.9 700.7,569.4 C706.3,569.9 712.6,570.5 719.0,570.9 C725.4,571.3 732.8,571.7 738.8,572.0 C744.8,572.3 749.6,572.4 755.0,572.5 C760.4,572.6 768.2,572.8 770.9,572.8" fill="none" stroke="#1010ff" stroke-width="2.3" stroke-linejoin="round"/></g>
<line x1="609" y1="341.7" x2="638.6" y2="341.7" stroke="#111" stroke-width="2"/>
<text x="642.5" y="346.2" font-size="13.2" text-anchor="start" >97:3</text>
<line x1="609" y1="357.5" x2="638.6" y2="357.5" stroke="#1010ff" stroke-width="2"/>
<text x="642.5" y="362.0" font-size="13.2" text-anchor="start" >97:3 90 °C (72 h)</text>
</g>
</svg>
</body></html>
